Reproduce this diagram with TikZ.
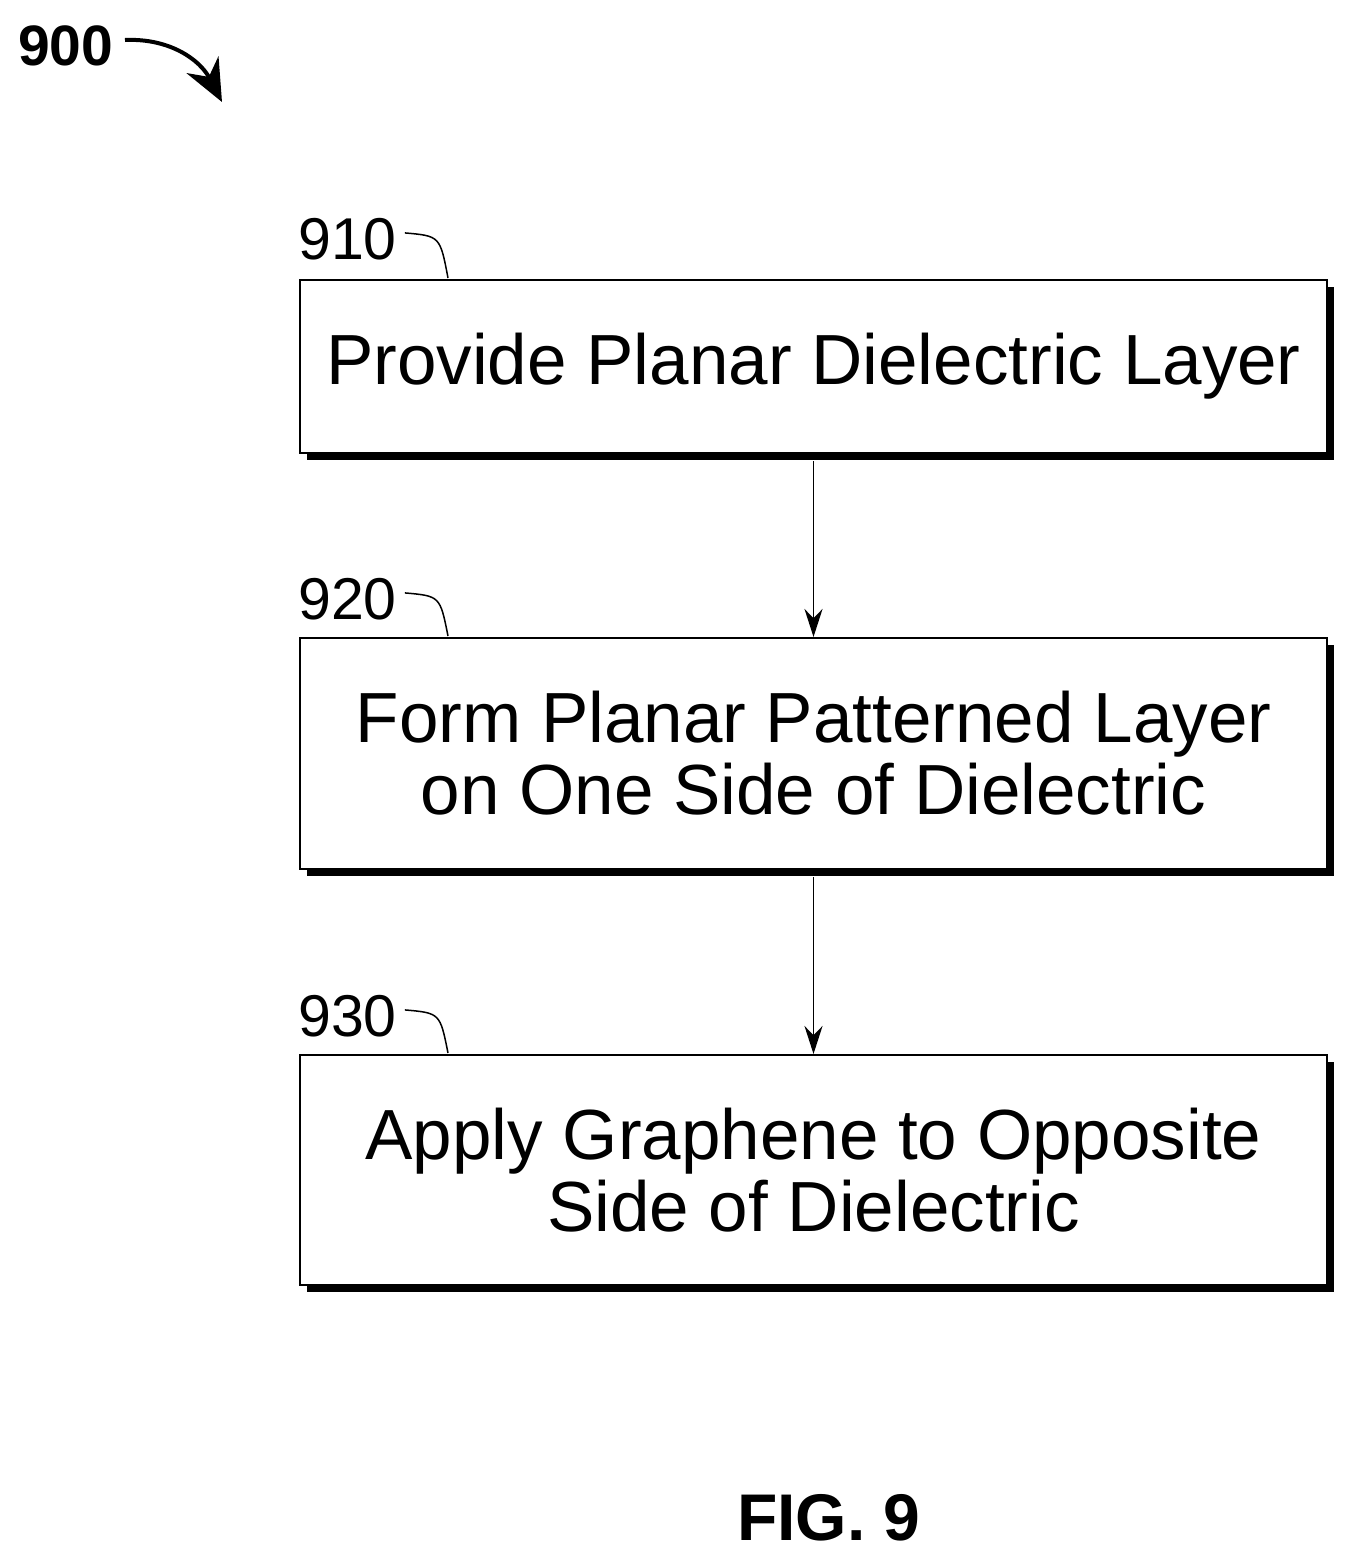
\documentclass[tikz,border=0pt]{standalone}
\usepackage{fontspec}
\setmainfont{Liberation Sans}
\usetikzlibrary{arrows.meta}
\begin{document}
\begin{tikzpicture}[x=1pt,y=-1pt,
  box/.style={draw,line width=2pt,fill=white,minimum width=1027pt,align=center,font=\fontsize{71}{72}\selectfont,inner sep=0pt},
  lbl/.style={font=\fontsize{59}{60}\selectfont,anchor=south west,inner sep=0pt},
  lead/.style={line width=1.5pt},
  flow/.style={line width=1.8pt,-{Stealth[length=28pt,width=18pt]}}]
\useasboundingbox (0,0) rectangle (1355,1561);
\foreach \t/\b in {280/453,638/869,1055/1285}{
  \fill (307,\t+7) rectangle (1334,\b+7);
}
\node[box,minimum height=173pt] (b1) at (813.5,366.5) {Provide Planar Dielectric Layer};
\node[box,minimum height=231pt] (b2) at (813.5,753.5) {Form Planar Patterned Layer\\on One Side of Dielectric};
\node[box,minimum height=230pt] (b3) at (813.5,1170) {Apply Graphene to Opposite\\Side of Dielectric};
\node[lbl] (l1) at (298,260) {910};
\node[lbl] (l2) at (298,620) {920};
\node[lbl] (l3) at (298,1037) {930};
\draw[lead] (l1.east)+(8,-6) .. controls (440,236) .. (448,278);
\draw[lead] (l2.east)+(8,-6) .. controls (440,596) .. (448,636);
\draw[lead] (l3.east)+(8,-6) .. controls (440,1013) .. (448,1053);
\draw[flow] (b1.south) ++(0,7) coordinate (s1) -- (b2.north);
\draw[flow] (b2.south) ++(0,7) coordinate (s2) -- (b3.north);
\node[font=\bfseries\fontsize{57}{60}\selectfont,anchor=west,inner sep=0pt] (n) at (18,46) {900};
\coordinate (t) at (222,102);
\draw[line width=4pt,-{Stealth[length=42pt,width=36pt]}] (125,40) .. controls (170,38) and (200,60) .. (t);
\node[font=\bfseries\fontsize{66}{70}\selectfont,inner sep=0pt] (fig) at (829,1518) {FIG. 9};
\end{tikzpicture}
\end{document}
